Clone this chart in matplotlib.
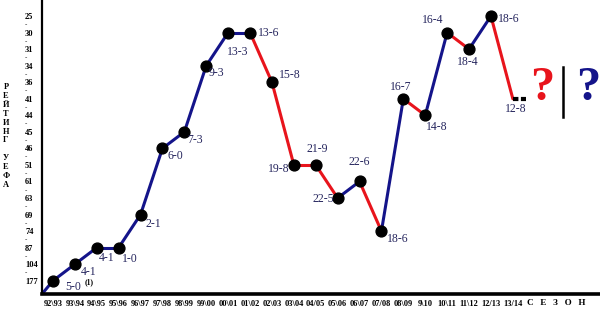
import numpy as np
import matplotlib
matplotlib.use('Agg')
import matplotlib.pyplot as plt
from matplotlib.lines import Line2D

# UEFA ranking levels shown on the y axis (bottom -> top)
rank_levels = [177, 104, 87, 74, 69, 63, 61, 51, 46, 45, 44, 41, 36, 34, 31, 30, 25]

seasons = ['92\\93', '93\\94', '94\\95', '95\\96', '96\\97', '97\\98', '98\\99', '99\\00',
           '00\\01', '01\\02', '02\\03', '03\\04', '04/05', '05\\06', '06\\07', '07/08',
           '08\\09', '9\\10', '10\\11', '11\\12', '12/13', '13/14']
ranks = [177, 104, 87, 87, 69, 46, 45, 34, 30, 30, 36, 51, 51, 63, 61, 74,
         41, 44, 30, 31, 25, 41]
scores = ['5-0', '4-1', '4-1', '1-0', '2-1', '6-0', '7-3', '9-3', '13-3', '13-6', '15-8',
          '19-8', '21-9', '22-5', '22-6', '18-6', '16-7', '14-8', '16-4', '18-4', '18-6', '12-8']

# label offsets in pixels (dx, dy) and alignment
offsets = [(12, -6, 'left'), (6, -8, 'left'), (2, -10, 'left'), (3, -11, 'left'),
           (5, -9, 'left'), (5, -8, 'left'), (3, -8, 'left'), (2, -7, 'left'),
           (-1, -19, 'left'), (8, 0, 'left'), (7, 7, 'left'), (-4, -4, 'right'),
           (2, 16, 'center'), (-4, -1, 'right'), (0, 19, 'center'), (6, -8, 'left'),
           (-3, 12, 'center'), (12, -12, 'center'), (-14, 13, 'center'), (-1, -13, 'center'),
           (7, -3, 'left'), (3, -10, 'center')]

blue = '#14148a'
red = '#e8141c'
txt = '#26265e'
serif = 'Liberation Serif'

x = np.arange(len(seasons))
y = np.array([rank_levels.index(r) for r in ranks])

fig = plt.figure(figsize=(6, 3.14), dpi=100)
ax = fig.add_axes([42 / 600, 20 / 314, 1 - 42 / 600, 1 - 20 / 314])
ax.set_xlim(-0.5, 24.98)
ax.set_ylim(-0.8, 16.97)

# line from the axes corner to the first point
ax.plot([-0.5, x[0]], [-0.8, y[0]], color=blue, lw=2.2, solid_capstyle='round', zorder=2)

# colour each segment: up -> blue, down -> red, flat keeps the previous colour
col = blue
for i in range(len(x) - 1):
    if y[i + 1] > y[i]:
        col = blue
    elif y[i + 1] < y[i]:
        col = red
    ax.plot(x[i:i + 2], y[i:i + 2], color=col, lw=2.2, solid_capstyle='round', zorder=2)

ax.plot(x[:-1], y[:-1], 'o', color='black', ms=7.8, zorder=3)
# dashed stub at the last season
ax.plot([x[-1], x[-1] + 0.6], [y[-1], y[-1]], color='black', lw=3, dashes=(1.3, 0.6), zorder=3)

for xi, yi, s, (dx, dy, ha) in zip(x, y, scores, offsets):
    ax.annotate(s, (xi, yi), xytext=(dx, dy), textcoords='offset pixels',
                ha=ha, va='center', fontsize=8.5, color=txt, family=serif)
ax.annotate('(1)', (x[0], y[0]), xytext=(32, -1), textcoords='offset pixels',
            ha='left', va='center', fontsize=5.5, color='black', family=serif, weight='bold')

# axes styling
for s in ['top', 'right']:
    ax.spines[s].set_visible(False)
ax.spines['left'].set_linewidth(1.6)
ax.spines['bottom'].set_linewidth(2.6)

ax.set_yticks(np.arange(len(rank_levels)))
ax.set_yticklabels([str(r) for r in rank_levels], fontsize=6, family=serif, weight='bold', ha='left')
ax.set_yticks(np.arange(len(rank_levels) - 1) + 0.5, minor=True)
ax.set_yticklabels(['-'] * (len(rank_levels) - 1), minor=True, fontsize=5, family=serif, ha='left')
ax.tick_params(axis='y', which='both', length=0, pad=12.2)

ax.set_xticks(x)
ax.set_xticklabels(seasons, fontsize=6, family=serif, weight='bold')
ax.tick_params(axis='x', length=0, pad=4)

fig.text(527 / 600, 1 - 303 / 314, 'С   Е   З   О   Н', fontsize=6.5, family=serif,
         weight='bold', ha='left', va='center')
fig.text(6 / 600, 1 - 136 / 314, '\n'.join('РЕЙТИНГ') + '\n\n' + '\n'.join('УЕФА'),
         fontsize=6, family=serif, weight='bold', ha='center', va='center', linespacing=1.15)

fig.text(542 / 600, 1 - 88 / 314, '?', fontsize=35, family=serif, weight='bold',
         color=red, ha='center', va='center')
fig.text(588 / 600, 1 - 88 / 314, '?', fontsize=35, family=serif, weight='bold',
         color=blue, ha='center', va='center')
fig.add_artist(Line2D([563 / 600, 563 / 600], [1 - 67 / 314, 1 - 117 / 314], color='black', lw=1.8))

fig.savefig('out.png', dpi=100)
